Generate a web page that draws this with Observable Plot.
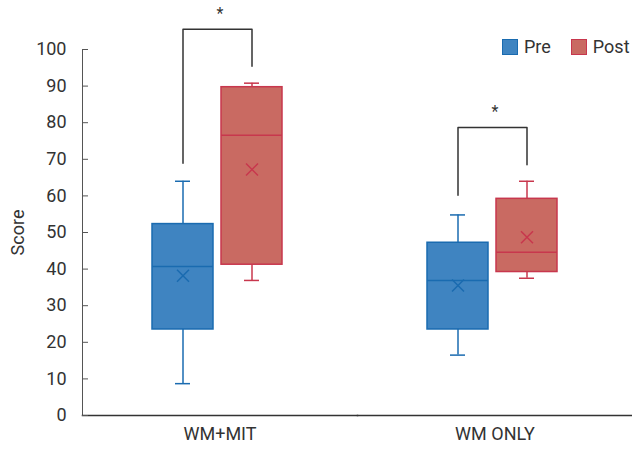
<!DOCTYPE html>
<html><head><meta charset="utf-8">
<script src="https://cdn.jsdelivr.net/npm/d3@7"></script>
<script src="https://cdn.jsdelivr.net/npm/@observablehq/plot@0.6"></script>
<style>
body{margin:0;background:#fff;font-family:Roboto,sans-serif}
#wrap{position:relative;width:632px;height:449px}
#legend{position:absolute;left:502px;top:38px;display:flex;align-items:center;font-size:18px;color:#333;font-family:Roboto,sans-serif;line-height:18px}
#legend .sw{display:inline-block;width:14px;height:14px;border-width:1px;border-style:solid;margin-right:6px}
#legend .it{display:flex;align-items:center;margin-right:20px}
</style></head><body><div id="wrap"><div id="legend"></div></div>
<script>
const groups = ["WM+MIT", "WM ONLY"];
const phases = ["Pre", "Post"];
const fillColors = ["#3f84c1", "#c96a62"];
const strokeColors = ["#1a6bb0", "#c8374d"];
const boxGroup = ["WM+MIT", "WM+MIT", "WM ONLY", "WM ONLY"];
const boxPhase = ["Pre", "Post", "Pre", "Post"];
const minV = [8.7, 36.9, 16.5, 37.5];
const q1V = [23.5, 41.2, 23.5, 39.2];
const medianV = [40.7, 76.6, 36.9, 44.6];
const q3V = [52.3, 89.7, 47.2, 59.2];
const maxV = [64.0, 90.8, 54.8, 64.0];
const meanV = [38.2, 67.2, 35.5, 48.7];
const yTicks = [0, 10, 20, 30, 40, 50, 60, 70, 80, 90, 100];
const bracketTop = [105.5, 78.7];
const bracketLeft = [68.9, 60.2];
const bracketRight = [95.4, 68.5];
const starY = [109.8, 83.0];
const starText = ["*", "*"];
const yLabel = "Score";

const boxes = boxGroup.map((g, i) => ({
  g, phase: boxPhase[i], min: minV[i], q1: q1V[i], median: medianV[i], q3: q3V[i], max: maxV[i], mean: meanV[i],
  fill: fillColors[phases.indexOf(boxPhase[i])], stroke: strokeColors[phases.indexOf(boxPhase[i])]
}));
const bracketPts = groups.flatMap((g, i) => [
  {g, phase: "Pre", y: bracketLeft[i]},
  {g, phase: "Pre", y: bracketTop[i]},
  {g, phase: "Post", y: bracketTop[i]},
  {g, phase: "Post", y: bracketRight[i]}
]);
const stars = groups.map((g, i) => ({g, y: starY[i], t: starText[i]}));

const chart = Plot.plot({
  width: 632, height: 449,
  marginLeft: 82, marginRight: 0, marginTop: 49, marginBottom: 34,
  style: {fontFamily: "Roboto, sans-serif", fontSize: "18px", color: "#333", background: "#fff"},
  fx: {domain: groups, padding: 0, axis: null, label: null},
  x: {domain: phases, paddingInner: 0.116, paddingOuter: 1.043, align: 0.48, axis: null},
  y: {domain: [0, 100], axis: null},
  color: {type: "identity"},
  marks: [
    Plot.frame({anchor: "left", stroke: "#555", facetAnchor: "left"}),
    Plot.frame({anchor: "bottom", stroke: "#333", strokeWidth: 1.5}),
    Plot.axisY({ticks: yTicks, tickSize: -6, tickFormat: () => "", label: null, stroke: "#555"}),
    Plot.axisY({ticks: yTicks, tickSize: 0, tickPadding: 16, fontSize: 18, fill: "#333", label: yLabel, labelAnchor: "center", labelOffset: 71, labelArrow: "none"}),
    Plot.axisFx({anchor: "bottom", tickSize: 0, tickPadding: 12, label: null, fontSize: 18, fill: "#333"}),
    Plot.ruleX(boxes, {fx: "g", x: "phase", y1: "min", y2: "q1", stroke: "stroke", strokeWidth: 1.5}),
    Plot.ruleX(boxes, {fx: "g", x: "phase", y1: "q3", y2: "max", stroke: "stroke", strokeWidth: 1.5}),
    Plot.tickY(boxes, {fx: "g", x: "phase", y: "min", stroke: "stroke", strokeWidth: 1.5, insetLeft: 23, insetRight: 23}),
    Plot.tickY(boxes, {fx: "g", x: "phase", y: "max", stroke: "stroke", strokeWidth: 1.5, insetLeft: 23, insetRight: 23}),
    Plot.barY(boxes, {fx: "g", x: "phase", y1: "q1", y2: "q3", fill: "fill", stroke: "stroke", strokeWidth: 1.5}),
    Plot.tickY(boxes, {fx: "g", x: "phase", y: "median", stroke: "stroke", strokeWidth: 1.5}),
    Plot.dot(boxes, {fx: "g", x: "phase", y: "mean", symbol: "times", r: 5.5, stroke: "stroke", strokeWidth: 1.5}),
    Plot.line(bracketPts, {fx: "g", x: "phase", y: "y", z: "g", stroke: "#333", strokeWidth: 1.5}),
    Plot.text(stars, {fx: "g", y: "y", text: "t", fontSize: 16, fill: "#333", lineAnchor: "middle"})
  ]
});
document.getElementById("wrap").appendChild(chart);

const legend = document.getElementById("legend");
phases.forEach((p, i) => {
  const it = document.createElement("span");
  it.className = "it";
  const sw = document.createElement("span");
  sw.className = "sw";
  sw.style.background = fillColors[i];
  sw.style.borderColor = strokeColors[i];
  it.appendChild(sw);
  it.appendChild(document.createTextNode(p));
  legend.appendChild(it);
});
</script>
</body></html>
